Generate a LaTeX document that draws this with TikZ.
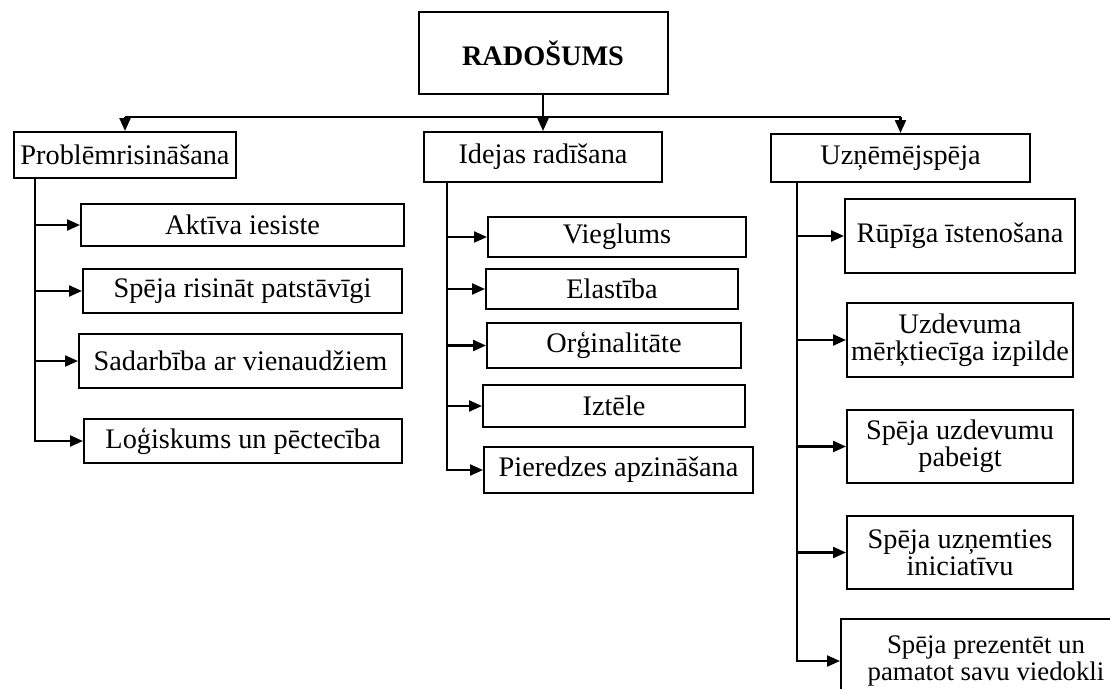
\documentclass[tikz,border=0pt]{standalone}
\usepackage{fontspec}
\setmainfont{Liberation Serif}
\usetikzlibrary{arrows.meta}
\begin{document}
\begin{tikzpicture}[x=1pt,y=-1pt,
 box/.style={draw,line width=2pt,inner sep=0pt,align=center,font=\fontsize{28.3}{27}\selectfont},
 conn/.style={line width=2.2pt},
 arr/.style={line width=2.2pt,-{Triangle[length=13pt,width=11pt]}}]
\useasboundingbox (0,0) rectangle (1110,688);
\clip (0,0) rectangle (1110,688);
% top
\node[box,minimum width=249pt,minimum height=82pt,font=\fontsize{28.3}{27}\selectfont\bfseries] (R) at (543,53) {RADOŠUMS};
\node[box,minimum width=222pt,minimum height=46pt] (P) at (125,155) {Problēmrisināšana};
\node[box,minimum width=238pt,minimum height=50pt] (I) at (543,157) {Idejas radīšana};
\node[box,minimum width=259pt,minimum height=48pt] (U) at (900.5,158) {Uzņēmējspēja};
% left column
\node[box,minimum width=323pt,minimum height=42pt] (A1) at (242.5,225) {Aktīva iesiste};
\node[box,minimum width=319pt,minimum height=44pt] (A2) at (242.5,291) {Spēja risināt patstāvīgi};
\node[box,minimum width=323pt,minimum height=54pt] (A3) at (240.5,361) {Sadarbība ar vienaudžiem};
\node[box,minimum width=318pt,minimum height=44pt] (A4) at (243,441) {Loģiskums un pēctecība};
% middle column
\node[box,minimum width=258pt,minimum height=40pt] (B1) at (617,237) {Vieglums};
\node[box,minimum width=252pt,minimum height=40pt] (B2) at (612,289) {Elastība};
\node[box,minimum width=254pt,minimum height=45pt] (B3) at (614,345.5) {Orģinalitāte};
\node[box,minimum width=262pt,minimum height=42pt] (B4) at (614,406) {Iztēle};
\node[box,minimum width=269pt,minimum height=46pt] (B5) at (618.5,470) {Pieredzes apzināšana};
% right column
\node[box,minimum width=230pt,minimum height=74pt] (C1) at (960,236) {Rūpīga īstenošana};
\node[box,minimum width=226pt,minimum height=74pt] (C2) at (960,340) {Uzdevuma\\mērķtiecīga izpilde};
\node[box,minimum width=226pt,minimum height=73pt] (C3) at (960,446.5) {Spēja uzdevumu\\pabeigt};
\node[box,minimum width=226pt,minimum height=73pt] (C4) at (960,552.5) {Spēja uzņemties\\iniciatīvu};
\node[box,minimum width=290pt,minimum height=84pt,font=\fontsize{26.8}{27}\selectfont] (C5) at (986,661) {Spēja prezentēt un\\pamatot savu viedokli};
% bus
\coordinate (bus) at (543,117);
\draw[arr] (R.south) -- (I.north);
\draw[conn] (P.north|-bus) -- (U.north|-bus);
\draw[arr] (P.north|-bus) -- (P.north);
\draw[arr] (U.north|-bus) -- (U.north);
% left spine
\coordinate (lx) at (35,178);
\draw[arr] (lx) |- (A4.west);
\draw[arr] (lx|-A1.west) -- (A1.west);
\draw[arr] (lx|-A2.west) -- (A2.west);
\draw[arr] (lx|-A3.west) -- (A3.west);
% middle spine
\coordinate (mx) at (447,182);
\draw[arr] (mx) |- (B5.west);
\draw[arr] (mx|-B1.west) -- (B1.west);
\draw[arr] (mx|-B2.west) -- (B2.west);
\draw[arr] (mx|-B3.west) -- (B3.west);
\draw[arr] (mx|-B4.west) -- (B4.west);
% right spine
\coordinate (rx) at (797,182);
\draw[arr] (rx) |- (C5.west);
\draw[arr] (rx|-C1.west) -- (C1.west);
\draw[arr] (rx|-C2.west) -- (C2.west);
\draw[arr] (rx|-C3.west) -- (C3.west);
\draw[arr] (rx|-C4.west) -- (C4.west);
\end{tikzpicture}
\end{document}
